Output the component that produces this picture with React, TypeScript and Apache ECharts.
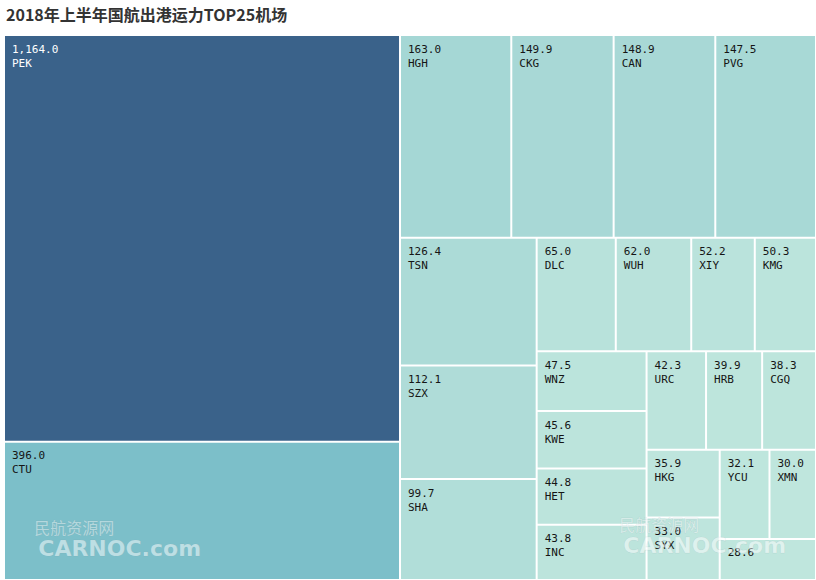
import React, { useEffect, useRef } from "react";
import * as echarts from "echarts";

const titleText = "2018年上半年国航出港运力TOP25机场";

// The 25th cell's airport code is hidden under the watermark in the reference.
const airports = [
  "PEK", "CTU", "HGH", "CKG", "CAN", "PVG", "TSN", "SZX", "SHA",
  "DLC", "WUH", "XIY", "KMG", "WNZ", "KWE", "HET", "INC", "URC",
  "HRB", "CGQ", "HKG", "SYX", "YCU", "XMN", "",
];

const capacity = [
  1164.0, 396.0, 163.0, 149.9, 148.9, 147.5, 126.4, 112.1, 99.7,
  65.0, 62.0, 52.2, 50.3, 47.5, 45.6, 44.8, 43.8, 42.3,
  39.9, 38.3, 35.9, 33.0, 32.1, 30.0, 28.6,
];

const palette = [
  "#bfe6dd", "#a9d9d6", "#94cfd0", "#80c2ca", "#71b5c4", "#60a4bc",
  "#5593b3", "#4b83a8", "#43759c", "#3e6b93", "#3a628a",
];

function fmt(v: number): string {
  return v.toLocaleString("en-US", { minimumFractionDigits: 1, maximumFractionDigits: 1 });
}

const wmSmall = "民航资源网";
const wmBig = "CARNOC.com";

export default function App() {
  const ref = useRef<HTMLDivElement>(null);
  useEffect(() => {
    if (!ref.current) return;
    const chart = echarts.init(ref.current, undefined, { renderer: "svg" });
    const vmin = Math.min(...capacity);
    const vmax = Math.max(...capacity);
    const data = airports.map((name, i) => {
      const t = (capacity[i] - vmin) / (vmax - vmin);
      return {
        name,
        value: capacity[i],
        itemStyle: { color: echarts.color.lerp(t, palette) },
        label: { color: t > 0.6 ? "#ffffff" : "#151515" },
      };
    });
    const wm = (x: number, y: number) => [
      {
        type: "text",
        left: x,
        top: y,
        z: 100,
        style: {
          text: wmSmall,
          fill: "rgba(255,255,255,0.45)",
          stroke: "rgba(110,140,150,0.25)",
          lineWidth: 0.5,
          font: "16px 'Noto Sans CJK SC'",
        },
      },
      {
        type: "text",
        left: x + 4,
        top: y + 18,
        z: 100,
        style: {
          text: wmBig,
          fill: "rgba(255,255,255,0.5)",
          stroke: "rgba(110,140,150,0.25)",
          lineWidth: 0.5,
          font: "bold 22px 'DejaVu Sans'",
        },
      },
    ];
    chart.setOption({
      animation: false,
      title: {
        text: titleText,
        left: 1,
        top: 1,
        textStyle: {
          fontFamily: "Noto Sans CJK SC",
          fontSize: 16,
          fontWeight: "bold",
          color: "#333333",
        },
      },
      graphic: [...wm(34, 519), ...wm(619, 516)],
      series: [
        {
          type: "treemap",
          left: 4,
          top: 35,
          right: 0,
          bottom: 0,
          roam: false,
          nodeClick: false,
          breadcrumb: { show: false },
          sort: "desc",
          visibleMin: 0,
          itemStyle: { borderColor: "#ffffff", borderWidth: 1, gapWidth: 0 },
          label: {
            show: true,
            position: "insideTopLeft",
            distance: 0,
            padding: [6, 0, 0, 7],
            fontFamily: "DejaVu Sans Mono",
            fontSize: 11,
            lineHeight: 14,
            formatter: (p: any) => (p.name ? fmt(p.value) + "\n" + p.name : fmt(p.value)),
          },
          emphasis: { disabled: true },
          levels: [{ itemStyle: { borderColor: "#ffffff", borderWidth: 0, gapWidth: 0 } }],
          data,
        },
      ],
    });
    return () => chart.dispose();
  }, []);
  return (
    <div
      ref={ref}
      style={{ position: "fixed", left: 0, top: 0, width: 816, height: 580, background: "#ffffff" }}
    />
  );
}
